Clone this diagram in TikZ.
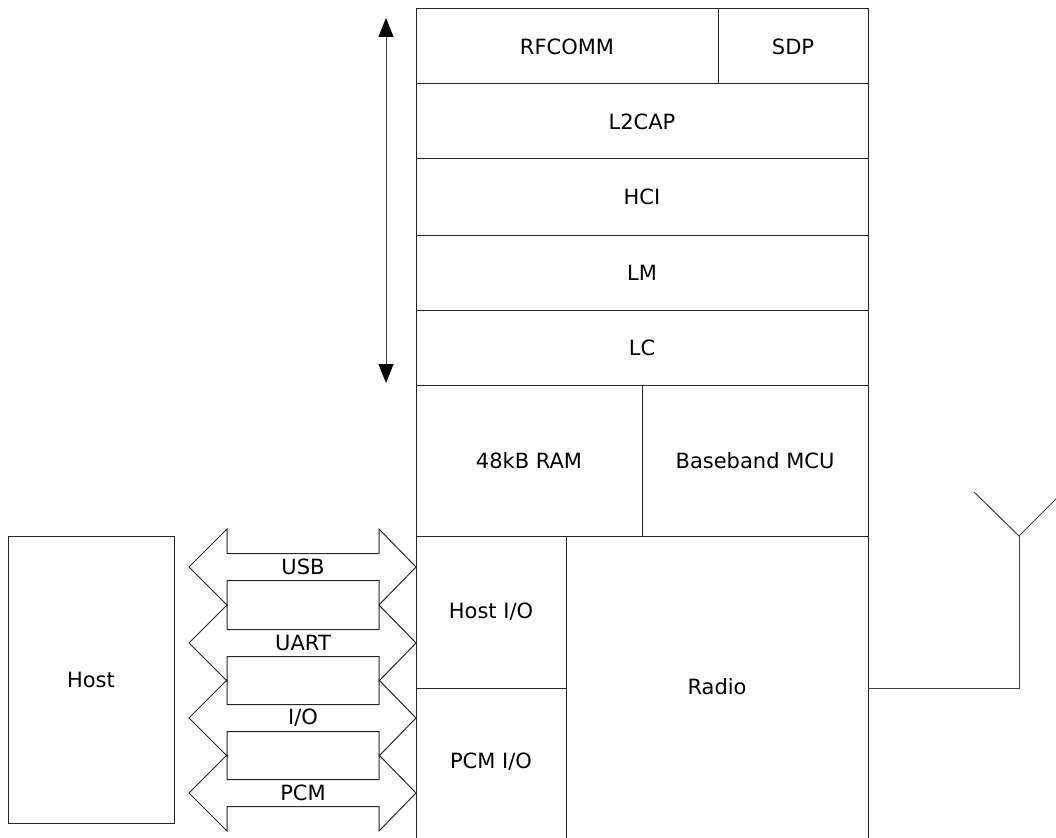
\documentclass[tikz,border=0pt]{standalone}
\usepackage{fontspec}
\setmainfont{DejaVu Sans}
\usetikzlibrary{arrows.meta}
\tikzset{
  box/.style={draw=black!85, line width=1pt, inner sep=0pt, outer sep=0pt, anchor=north west, font=\fontsize{21}{25}\selectfont},
  lbl/.style={inner sep=0pt, font=\fontsize{21}{25}\selectfont},
  ln/.style={draw=black!75, line width=1pt},
  barrow/.style={draw=black!85, line width=1pt, line join=miter},
  bhead/.tip={Triangle[width=15pt,length=19pt,color=black]}
}
\begin{document}
\begin{tikzpicture}[x=1pt,y=-1pt]
\useasboundingbox (0,0) rectangle (1056,837);
% protocol stack
\node[box, minimum width=302pt, minimum height=75pt] (rfcomm) at (416,9) {RFCOMM};
\node[box, minimum width=150pt, minimum height=75pt] (sdp) at (718,9) {SDP};
\node[box, minimum width=452pt, minimum height=75pt] (l2cap) at (416,84) {L2CAP};
\node[box, minimum width=452pt, minimum height=76pt] (hci) at (416,159) {HCI};
\node[box, minimum width=452pt, minimum height=75pt] (lm) at (416,235) {LM};
\node[box, minimum width=452pt, minimum height=75pt] (lc) at (416,310) {LC};
\node[box, minimum width=226pt, minimum height=151pt] (ram) at (416,385) {48kB RAM};
\node[box, minimum width=226pt, minimum height=151pt] (mcu) at (642,385) {Baseband MCU};
\node[box, minimum width=150pt, minimum height=152pt] (hostio) at (416,536) {Host I/O};
\node[box, minimum width=150pt, minimum height=152pt] (pcmio) at (416,688) {};
\node[lbl] (pcmlbl) at (491,762) {PCM I/O};
\node[box, minimum width=302pt, minimum height=304pt] (radio) at (566,536) {};
\node[lbl] (radiolbl) at (717,687) {Radio};
\node[box, minimum width=166pt, minimum height=287pt] (host) at (8,536) {Host};
% vertical double arrow
\coordinate (vtop) at (386,18);
\coordinate (vbot) at (386,383);
\draw[ln, {bhead}-{bhead}] (vtop) -- (vbot);
% antenna
\coordinate (ant) at (1019,536);
\coordinate (antl) at (974,492);
\coordinate (antr) at (1064,491);
\draw[ln] (radio.east) -| (ant);
\draw[ln] (antl) -- (ant) -- (antr);
% block double arrows
\foreach \c/\t/\n in {567/USB/usb, 643/UART/uart, 718/I\slash O/io, 793/PCM/pcm} {
  \draw[barrow] (189,\c) -- (227,\c-38) -- (227,\c-13.5) -- (379,\c-13.5) -- (379,\c-38) -- (416,\c)
     -- (379,\c+38) -- (379,\c+13.5) -- (227,\c+13.5) -- (227,\c+38) -- cycle;
  \node[lbl] (\n) at (303,\c) {\t};
}
\end{tikzpicture}
\end{document}
